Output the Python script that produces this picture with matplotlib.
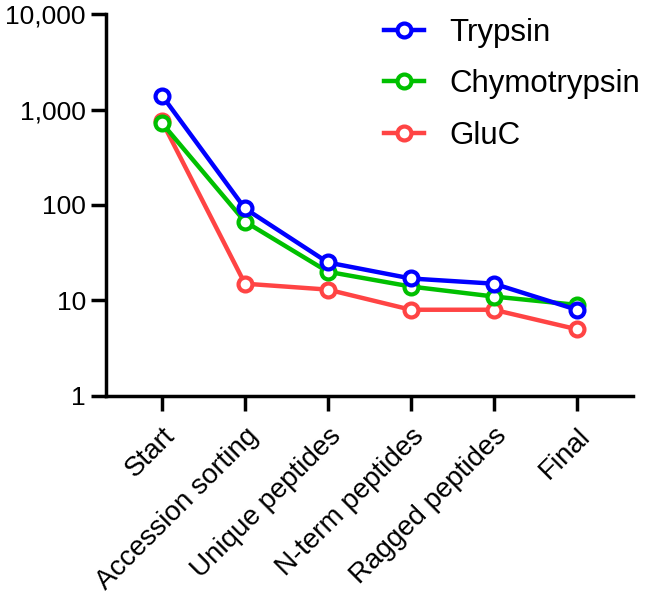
import matplotlib
matplotlib.use("Agg")
import matplotlib.pyplot as plt
from matplotlib.ticker import FixedLocator, FuncFormatter, NullLocator

categories = ["Start", "Accession sorting", "Unique peptides", "N-term peptides", "Ragged peptides", "Final"]
trypsin = [1400, 92, 25, 17, 15, 8]
chymotrypsin = [720, 67, 20, 14, 11, 9]
gluc = [750, 15, 13, 8, 8, 5]
yticks = [1, 10, 100, 1000, 10000]

plt.rcParams['font.family'] = ['Liberation Sans', 'DejaVu Sans']

fig = plt.figure(figsize=(6.47, 6.04), dpi=100)
ax = fig.add_axes([0.1638, 0.3444, 0.978 - 0.1638, 0.9768 - 0.3444])

x = list(range(len(categories)))
series = [("Trypsin", trypsin, "#0000FF"), ("Chymotrypsin", chymotrypsin, "#00C000"), ("GluC", gluc, "#FF4444")]
handles = {}
for name, vals, col in [series[2], series[1], series[0]]:
    h, = ax.plot(x, vals, color=col, lw=3.2, marker='o', ms=10, mfc='white', mec=col, mew=3, label=name)
    handles[name] = h

ax.set_yscale('log')
ax.set_ylim(1, 10000)
ax.set_xlim(-0.675, 5.675)
ax.yaxis.set_major_locator(FixedLocator(yticks))
ax.yaxis.set_minor_locator(NullLocator())
ax.yaxis.set_major_formatter(FuncFormatter(lambda v, p: f"{int(round(v)):,}"))
ax.set_xticks(x)
ax.set_xticklabels(categories, rotation=45, ha='right', rotation_mode='anchor')

for s in ['top', 'right']:
    ax.spines[s].set_visible(False)
for s in ['left', 'bottom']:
    ax.spines[s].set_linewidth(2.5)
ax.tick_params(axis='both', which='major', length=10.5, width=2.5, labelsize=19, pad=4, direction='out')
ax.tick_params(axis='x', labelsize=20, pad=9)

names = ["Trypsin", "Chymotrypsin", "GluC"]
leg = ax.legend([handles[n] for n in names], names,
                loc='upper right', bbox_to_anchor=(1.067, 1.063), frameon=False, fontsize=22.5,
                handlelength=1.3, labelspacing=0.68, handletextpad=0.8)

fig.savefig("out.png", dpi=100)
